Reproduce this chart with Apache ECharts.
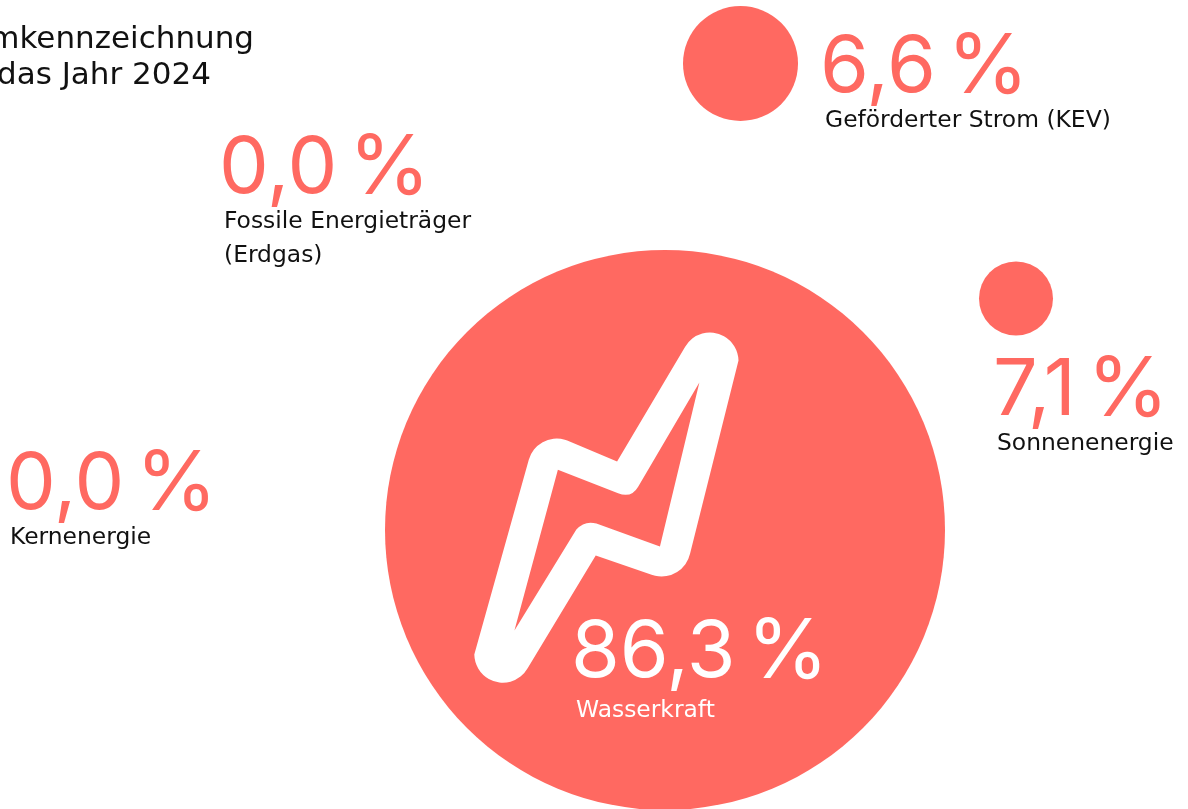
<!DOCTYPE html>
<html>
<head>
<meta charset="utf-8">
<title>Stromkennzeichnung 2024</title>
<style>
  html, body { margin: 0; padding: 0; background: #fff; overflow: hidden; }
  #chart { width: 1188px; height: 809px; }
</style>
<script src="https://cdn.jsdelivr.net/npm/echarts@6/dist/echarts.min.js"></script>
</head>
<body>
<div id="chart"></div>
<script>
// ---- Daten ----
const categories = ['Wasserkraft', 'Sonnenenergie', 'Geförderter Strom (KEV)', 'Fossile Energieträger\n(Erdgas)', 'Kernenergie']
const shares = [86.3, 7.1, 6.6, 0.0, 0.0]

// ---- Layout (Pixel im 1188x809-Raster) ----
const bubbleCentres = [[665, 530], [1016, 298.5], [740.5, 63.5], [0, 0], [0, 0]]
const bubbleSizes = [560, 74, 115, 0, 0]
const valueAnchors = [[571, 653], [993, 391], [820, 68], [219, 169], [6, 485]]
const nameAnchors = [[576, 711], [997, 444], [825, 121], [224, 238.5], [10, 538]]
const nameColors = ['#fff', '#111', '#111', '#111', '#111']
const valueColors = ['#fff', '#ff6961', '#ff6961', '#ff6961', '#ff6961']

const CORAL = '#ff6961'
const VALUE_FONT = 'Inter'
const TEXT_FONT = 'DejaVu Sans'
// Blitz: Aussenkontur plus gegenläufige Innenkontur (ergibt das Loch)
const BOLT = 'path://M685 348.3A28.5 28.5 0 0 1 738.3 361.7L690 553.3A29 29 0 0 1 651.7 574L596 555L528.3 666.7A28.5 28.5 0 0 1 475 653.3L529.3 460A29 29 0 0 1 570 442L617.3 461.7Z' +
  'M699.3 383.3L638.3 486.7Q631.7 498.3 618.3 493.3L558.3 470L515 629.3L576.7 529.3Q585 520 596.7 523.3L660 546Z'

// Zahl und Prozentzeichen getrennt, damit der Abstand schmal bleibt
function percentRich(v) {
  return '{n|' + v.toFixed(1).replace('.', ',') + '}{s| }{p|%}'
}

const titleStyle = { fontFamily: TEXT_FONT, fontSize: 31, fontWeight: 400, color: '#111' }

const chart = echarts.init(document.getElementById('chart'), null, { renderer: 'canvas' })

chart.setOption({
  animation: false,
  backgroundColor: '#fff',
  // Titel läuft links aus dem Bild, deshalb rechtsbündig gesetzt
  title: [
    { text: 'Stromkennzeichnung', right: 929, top: 19, textStyle: titleStyle },
    { text: 'für das Jahr 2024', right: 972, top: 55, textStyle: titleStyle }
  ],
  grid: { left: 0, right: 0, top: 0, bottom: 0 },
  xAxis: { type: 'value', min: 0, max: 1188, show: false },
  yAxis: { type: 'value', min: 0, max: 809, inverse: true, show: false },
  series: [
    {
      name: 'Anteile',
      type: 'scatter',
      z: 2,
      silent: true,
      data: shares.map((v, i) => ({
        name: categories[i],
        value: bubbleCentres[i],
        symbolSize: bubbleSizes[i]
      })),
      itemStyle: { color: CORAL, opacity: 1 }
    },
    {
      name: 'Blitz',
      type: 'scatter',
      z: 3,
      silent: true,
      symbol: BOLT,
      symbolSize: [264.2, 350.2],
      data: [[606.4, 507.6]],
      itemStyle: { color: '#fff', opacity: 1 }
    },
    {
      name: 'Werte',
      type: 'scatter',
      z: 5,
      symbolSize: 0,
      silent: true,
      itemStyle: { opacity: 1 },
      data: shares.map((v, i) => ({
        value: valueAnchors[i],
        label: {
          show: true,
          position: 'right',
          distance: 0,
          formatter: percentRich(v),
          rich: {
            n: { fontFamily: VALUE_FONT, fontWeight: 400, fontSize: 79, color: valueColors[i] },
            s: { fontFamily: VALUE_FONT, fontSize: 40, color: valueColors[i] },
            p: { fontFamily: VALUE_FONT, fontWeight: 400, fontSize: 83, color: valueColors[i] }
          }
        }
      }))
    },
    {
      name: 'Namen',
      type: 'scatter',
      z: 5,
      symbolSize: 0,
      silent: true,
      itemStyle: { opacity: 1 },
      data: categories.map((c, i) => ({
        value: nameAnchors[i],
        label: {
          show: true,
          position: 'right',
          distance: 0,
          formatter: c,
          fontFamily: TEXT_FONT,
          fontSize: 23.4,
          lineHeight: 34,
          color: nameColors[i]
        }
      }))
    }
  ]
})

window.addEventListener('resize', () => chart.resize())
</script>
</body>
</html>
